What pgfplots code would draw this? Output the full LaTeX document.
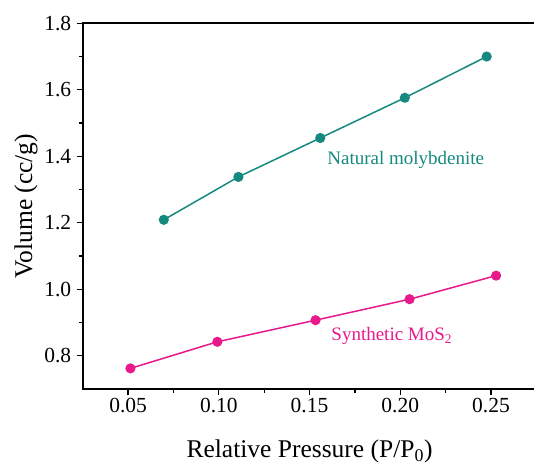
\documentclass[border=0pt]{standalone}
\usepackage{pgfplots}
\pgfplotsset{compat=1.18}
\usepackage{fontspec}
\setmainfont{Liberation Serif}
\definecolor{tealc}{HTML}{15897F}
\definecolor{pinkc}{HTML}{E8198B}
\begin{document}
\begin{tikzpicture}[x=1pt,y=1pt]
\begin{axis}[
  at={(82.7pt,76pt)}, anchor=south west,
  scale only axis, width=453.7pt, height=365.7pt,
  xmin=0.025, xmax=0.275, ymin=0.7, ymax=1.8,
  xtick={0.05,0.10,0.15,0.20,0.25},
  xticklabels={0.05,0.10,0.15,0.20,0.25},
  ytick={0.8,1.0,1.2,1.4,1.6,1.8},
  yticklabels={0.8,1.0,1.2,1.4,1.6,1.8},
  minor x tick num=1, minor y tick num=1,
  tick align=outside,
  major tick length=6pt, minor tick length=3.5pt,
  xtick pos=bottom, ytick pos=left,
  axis line style={line width=1.6pt},
  every tick/.style={black, line width=1.3pt},
  tick label style={font=\fontsize{21.5}{24}\selectfont},
  yticklabel style={xshift=-2pt},
  /pgf/number format/assume math mode=true,
  every axis y label/.style={at={(axis description cs:-0.125,0.5)}, rotate=90, anchor=center},
  every axis x label/.style={at={(axis description cs:0.5,-0.170)}, anchor=center},
  label style={font=\fontsize{25.5}{28}\selectfont},
  xlabel={Relative Pressure (P/P\textsubscript{0})},
  ylabel={Volume (cc/g)},
  clip=false,
]
\addplot[color=tealc, line width=1.5pt, mark=*, mark size=4.3pt, mark options={fill=tealc, draw=tealc}]
  coordinates {(0.0697,1.209) (0.1108,1.338) (0.1559,1.455) (0.2025,1.576) (0.2476,1.700)};
\addplot[color=pinkc, line width=1.5pt, mark=*, mark size=4.3pt, mark options={fill=pinkc, draw=pinkc}]
  coordinates {(0.0513,0.762) (0.0992,0.842) (0.1533,0.907) (0.2051,0.970) (0.2528,1.041)};
\node[tealc, font=\fontsize{19}{21}\selectfont] at (axis cs:0.203,1.389) {Natural molybdenite};
\node[pinkc, font=\fontsize{19}{21}\selectfont] at (axis cs:0.1953,0.860) {Synthetic MoS\textsubscript{2}};
\end{axis}
\pgfresetboundingbox
\path[use as bounding box] (0,0) rectangle (534,465);
\end{tikzpicture}
\end{document}
